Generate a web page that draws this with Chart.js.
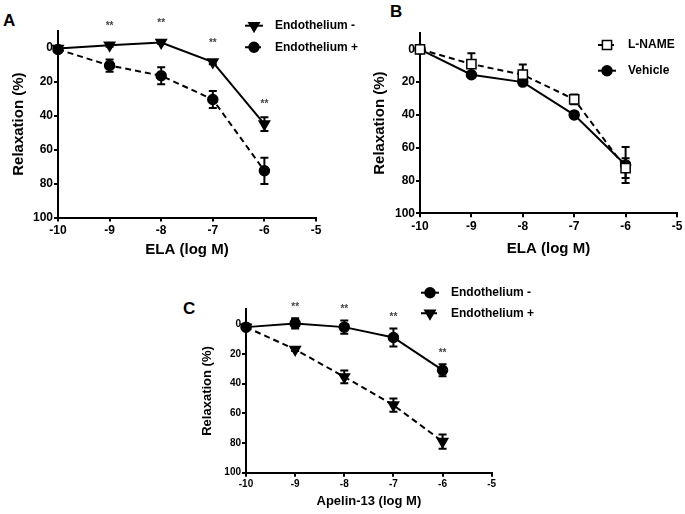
<!DOCTYPE html>
<html>
<head>
<meta charset="utf-8">
<script src="https://cdn.jsdelivr.net/npm/chart.js@4.4.0/dist/chart.umd.min.js"></script>
<style>
  body { margin: 0; background: #fff; width: 685px; height: 514px; overflow: hidden; position: relative; font-family: "Liberation Sans", Arial, sans-serif; }
  canvas { position: absolute; left: 0; top: 0; }
  .panel { position: absolute; font-weight: bold; font-size: 17px; line-height: 1; color: #000; }
</style>
</head>
<body>
<div class="panel" style="left:3px;top:12px">A</div>
<div class="panel" style="left:390px;top:3px">B</div>
<div class="panel" style="left:183px;top:300px">C</div>
<canvas id="chartA" width="685" height="514"></canvas>
<canvas id="chartB" width="685" height="514"></canvas>
<canvas id="chartC" width="685" height="514"></canvas>
<script>
const FONT = '"Liberation Sans", Arial, sans-serif';

const doses = [-10, -9, -8, -7, -6];
const xTicks = [-10, -9, -8, -7, -6, -5];
const yTicks = [0, 20, 40, 60, 80, 100];

// A: ELA, endothelium denuded / intact
const elaEndoMinus = [0.5, -1.5, -3, 8.5, 45];
const elaEndoMinusSem = [0, 1, 0.8, 1.2, 4];
const elaEndoPlus = [1, 10.5, 16.5, 30.5, 72.5];
const elaEndoPlusSem = [0, 3.6, 5, 5, 7.7];
const elaSig = ['', '**', '**', '**', '**'];

// B: ELA with L-NAME / vehicle
const elaLname = [0, 9, 15.5, 30.5, 72.5];
const elaLnameSem = [0, 6.6, 6.3, 3, 6];
const elaVehicle = [0, 15.5, 20, 40, 70.5];
const elaVehicleSem = [0, 1, 1, 1, 11];

// C: Apelin-13, endothelium denuded / intact
const apelinEndoMinus = [2, -0.5, 2, 9, 31];
const apelinEndoMinusSem = [0, 3.5, 4.5, 6, 4];
const apelinEndoPlus = [2, 17, 35.5, 54.5, 79];
const apelinEndoPlusSem = [0, 1, 4.3, 4.5, 4.8];
const apelinSig = ['', '**', '**', '**', '**'];

const TRI = { style: 'triangle', rot: 180, r: 6, fill: '#000' };
const DOT = { style: 'circle', rot: 0, r: 5, fill: '#000' };
const BOX = { style: 'rect', rot: 0, r: 6.5, fill: '#fff' };

function series(label, ys, sem, m, dashed) {
  return {
    label: label,
    data: doses.map((x, i) => ({ x: x, y: ys[i] })),
    sem: sem,
    showLine: true,
    borderColor: '#000',
    borderWidth: 2,
    borderDash: dashed ? [6, 4] : [],
    pointStyle: m.style,
    pointRotation: m.rot,
    pointRadius: m.r,
    pointBackgroundColor: m.fill,
    pointBorderColor: '#000',
    pointBorderWidth: 1.5,
    clip: false
  };
}

const errorBars = {
  id: 'errorBars',
  beforeDatasetsDraw(chart) {
    const { ctx, scales: { x, y } } = chart;
    ctx.save();
    ctx.strokeStyle = '#000';
    ctx.lineWidth = 2;
    chart.data.datasets.forEach(ds => {
      ds.data.forEach((p, i) => {
        const e = ds.sem[i];
        if (!e) return;
        const px = x.getPixelForValue(p.x);
        const y0 = y.getPixelForValue(p.y - e);
        const y1 = y.getPixelForValue(p.y + e);
        ctx.beginPath();
        ctx.moveTo(px, y0); ctx.lineTo(px, y1);
        ctx.moveTo(px - 4, y0); ctx.lineTo(px + 4, y0);
        ctx.moveTo(px - 4, y1); ctx.lineTo(px + 4, y1);
        ctx.stroke();
      });
    });
    ctx.restore();
  }
};

const stars = {
  id: 'stars',
  afterDatasetsDraw(chart, args, opts) {
    if (!opts.marks) return;
    const { ctx, scales: { x, y } } = chart;
    ctx.save();
    ctx.fillStyle = '#444';
    ctx.font = 'bold 10px ' + FONT;
    ctx.textAlign = 'center';
    ctx.textBaseline = 'middle';
    opts.marks.forEach((m, i) => {
      if (!m) return;
      let top = Infinity;
      chart.data.datasets.forEach(ds => {
        const v = ds.data[i].y;
        top = Math.min(top, y.getPixelForValue(v - ds.sem[i]), y.getPixelForValue(v) - ds.pointRadius);
      });
      ctx.fillText(m, x.getPixelForValue(doses[i]), top - opts.lift);
    });
    ctx.restore();
  }
};

const keyBox = {
  id: 'keyBox',
  afterDraw(chart, args, opts) {
    const ctx = chart.ctx;
    ctx.save();
    chart.data.datasets.forEach((ds, i) => {
      const cy = opts.y + i * opts.gap;
      ctx.strokeStyle = '#000';
      ctx.lineWidth = 2;
      ctx.setLineDash(ds.borderDash);
      ctx.beginPath();
      ctx.moveTo(opts.x - 9, cy);
      ctx.lineTo(opts.x + 9, cy);
      ctx.stroke();
      ctx.setLineDash([]);
      ctx.fillStyle = ds.pointBackgroundColor;
      ctx.lineWidth = 1.5;
      Chart.helpers.drawPoint(ctx, {
        pointStyle: ds.pointStyle, rotation: ds.pointRotation,
        radius: ds.pointRadius, borderWidth: 1.5
      }, opts.x, cy);
      ctx.fillStyle = '#000';
      ctx.font = 'bold 12px ' + FONT;
      ctx.textAlign = 'left';
      ctx.textBaseline = 'middle';
      ctx.fillText(ds.label, opts.x + 21, cy);
    });
    ctx.restore();
  }
};

function makeChart(id, datasets, p) {
  const axisFont = { size: p.tick, weight: 'bold', family: FONT };
  const titleFont = { size: p.title, weight: 'bold', family: FONT };
  const grid = { display: true, drawOnChartArea: false, drawTicks: true, tickLength: 4, color: '#000', lineWidth: 2 };
  const border = { display: true, color: '#000', width: 2 };
  return new Chart(document.getElementById(id), {
    type: 'scatter',
    data: { datasets: datasets },
    options: {
      responsive: false,
      animation: false,
      events: [],
      layout: {
        padding: {
          left: p.left - p.yW,
          top: p.top,
          right: 685 - p.right,
          bottom: 514 - p.bottom - p.xH
        }
      },
      plugins: {
        legend: { display: false },
        tooltip: { enabled: false },
        stars: { marks: p.marks, lift: p.lift },
        keyBox: p.key
      },
      scales: {
        x: {
          type: 'linear', min: -10, max: -5,
          afterBuildTicks: s => { s.ticks = xTicks.map(v => ({ value: v })); },
          afterFit: s => { s.height = p.xH; },
          grid: grid, border: border,
          ticks: { color: '#000', font: axisFont, padding: 2, maxRotation: 0, autoSkip: false },
          title: { display: true, text: p.xTitle, color: '#000', font: titleFont, padding: { top: 0, bottom: 2 } }
        },
        y: {
          type: 'linear', reverse: true, min: -10, max: 100,
          afterBuildTicks: s => { s.ticks = yTicks.map(v => ({ value: v })); },
          afterFit: s => { s.width = p.yW; },
          grid: grid, border: border,
          ticks: { color: '#000', font: axisFont, padding: 1 },
          title: { display: true, text: 'Relaxation (%)', color: '#000', font: titleFont, padding: { top: p.yPad, bottom: 0 } }
        }
      }
    },
    plugins: [errorBars, stars, keyBox]
  });
}

makeChart('chartA', [
  series('Endothelium -', elaEndoMinus, elaEndoMinusSem, TRI, false),
  series('Endothelium +', elaEndoPlus, elaEndoPlusSem, DOT, true)
], {
  left: 58, right: 316, top: 30.7, bottom: 217.5, yW: 58, xH: 43, yPad: 10,
  tick: 12, title: 15, xTitle: 'ELA (log M)', marks: elaSig, lift: 13,
  key: { x: 254, y: 25.7, gap: 21.6 }
});

makeChart('chartB', [
  series('L-NAME', elaLname, elaLnameSem, BOX, true),
  series('Vehicle', elaVehicle, elaVehicleSem, DOT, false)
], {
  left: 420, right: 677.7, top: 32.9, bottom: 213.3, yW: 58, xH: 47, yPad: 9,
  tick: 12, title: 15, xTitle: 'ELA (log M)', marks: null, lift: 0,
  key: { x: 607, y: 45, gap: 25.7 }
});

makeChart('chartC', [
  series('Endothelium -', apelinEndoMinus, apelinEndoMinusSem, DOT, false),
  series('Endothelium +', apelinEndoPlus, apelinEndoPlusSem, TRI, true)
], {
  left: 246, right: 491.7, top: 309.3, bottom: 472.7, yW: 58, xH: 39, yPad: 12,
  tick: 10, title: 13, xTitle: 'Apelin-13 (log M)', marks: apelinSig, lift: 11,
  key: { x: 430, y: 292.7, gap: 20.6 }
});
</script>
</body>
</html>
